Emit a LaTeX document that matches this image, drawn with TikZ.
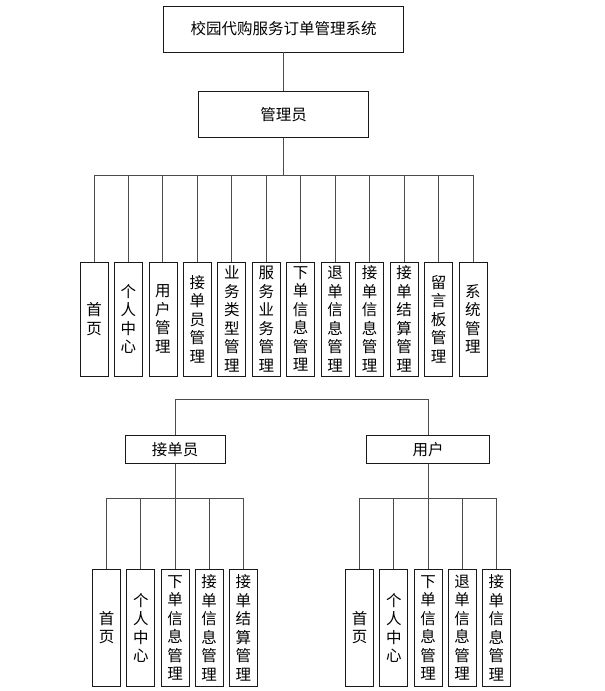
\documentclass[tikz,border=0pt]{standalone}
\usepackage{fontspec}
\setmainfont{Noto Sans CJK SC}
\usepackage{tikz}

\begin{document}
\begin{tikzpicture}[x=1pt, y=-1pt]
        \tikzstyle{every node}=[draw=black!90, line width=0.8pt, inner sep=0pt, font=\fontsize{15.5}{18.5}\selectfont]
        \tikzstyle{edge from parent}=[draw=black!70, line width=0.9pt]
        \tikzstyle{leaf}=[minimum width=28pt, text width=16pt, align=center]
        \useasboundingbox (0,0) rectangle (605,691);
        % manager tree
        \begin{scope}[level 1/.style={level distance=85.5pt},
            level 2/.style={level distance=204.5pt, sibling distance=34.45pt, set style={{every node}+=[leaf, minimum height=114pt]},
                edge from parent path={(\tikzparentnode.south) -- +(0,38) -| (\tikzchildnode.north)}}]
        \node [minimum width=240pt, minimum height=46pt] (sys) at (283.5,29) {校园代购服务订单管理系统}
            child {node [minimum width=170pt, minimum height=45.5pt] (admin) {管理员}
                child {node (a1) {首\\页}} child {node (a2) {个\\人\\中\\心}} child {node (a3) {用\\户\\管\\理}}
                child {node (a4) {接\\单\\员\\管\\理}} child {node (a5) {业\\务\\类\\型\\管\\理}} child {node (a6) {服\\务\\业\\务\\管\\理}}
                child {node (a7) {下\\单\\信\\息\\管\\理}} child {node (a8) {退\\单\\信\\息\\管\\理}} child {node (a9) {接\\单\\信\\息\\管\\理}}
                child {node (a10) {接\\单\\结\\算\\管\\理}} child {node (a11) {留\\言\\板\\管\\理}} child {node (a12) {系\\统\\管\\理}}};
        \end{scope}
        % staff and user trees
        \begin{scope}[level 1/.style={level distance=50.5pt, sibling distance=253pt, set style={{every node}+=[minimum height=27.6pt]},
                edge from parent path={(\tikzparentnode) -| (\tikzchildnode.north)}},
            level 2/.style={level distance=178.3pt, sibling distance=34.2pt, set style={{every node}+=[leaf, minimum height=117.7pt]},
                edge from parent path={(\tikzparentnode.south) -- +(0,34.4) -| (\tikzchildnode.north)}}]
        \coordinate (top) at (301.5,399)
            child {node [minimum width=100pt] (staff) {接单员}
                child {node (s1) {首\\页}} child {node (s2) {个\\人\\中\\心}} child {node (s3) {下\\单\\信\\息\\管\\理}}
                child {node (s4) {接\\单\\信\\息\\管\\理}} child {node (s5) {接\\单\\结\\算\\管\\理}}}
            child {node [minimum width=122.7pt] (user) {用户}
                child {node (u1) {首\\页}} child {node (u2) {个\\人\\中\\心}} child {node (u3) {下\\单\\信\\息\\管\\理}}
                child {node (u4) {退\\单\\信\\息\\管\\理}} child {node (u5) {接\\单\\信\\息\\管\\理}}};
        \end{scope}
    \end{tikzpicture}
\end{document}
